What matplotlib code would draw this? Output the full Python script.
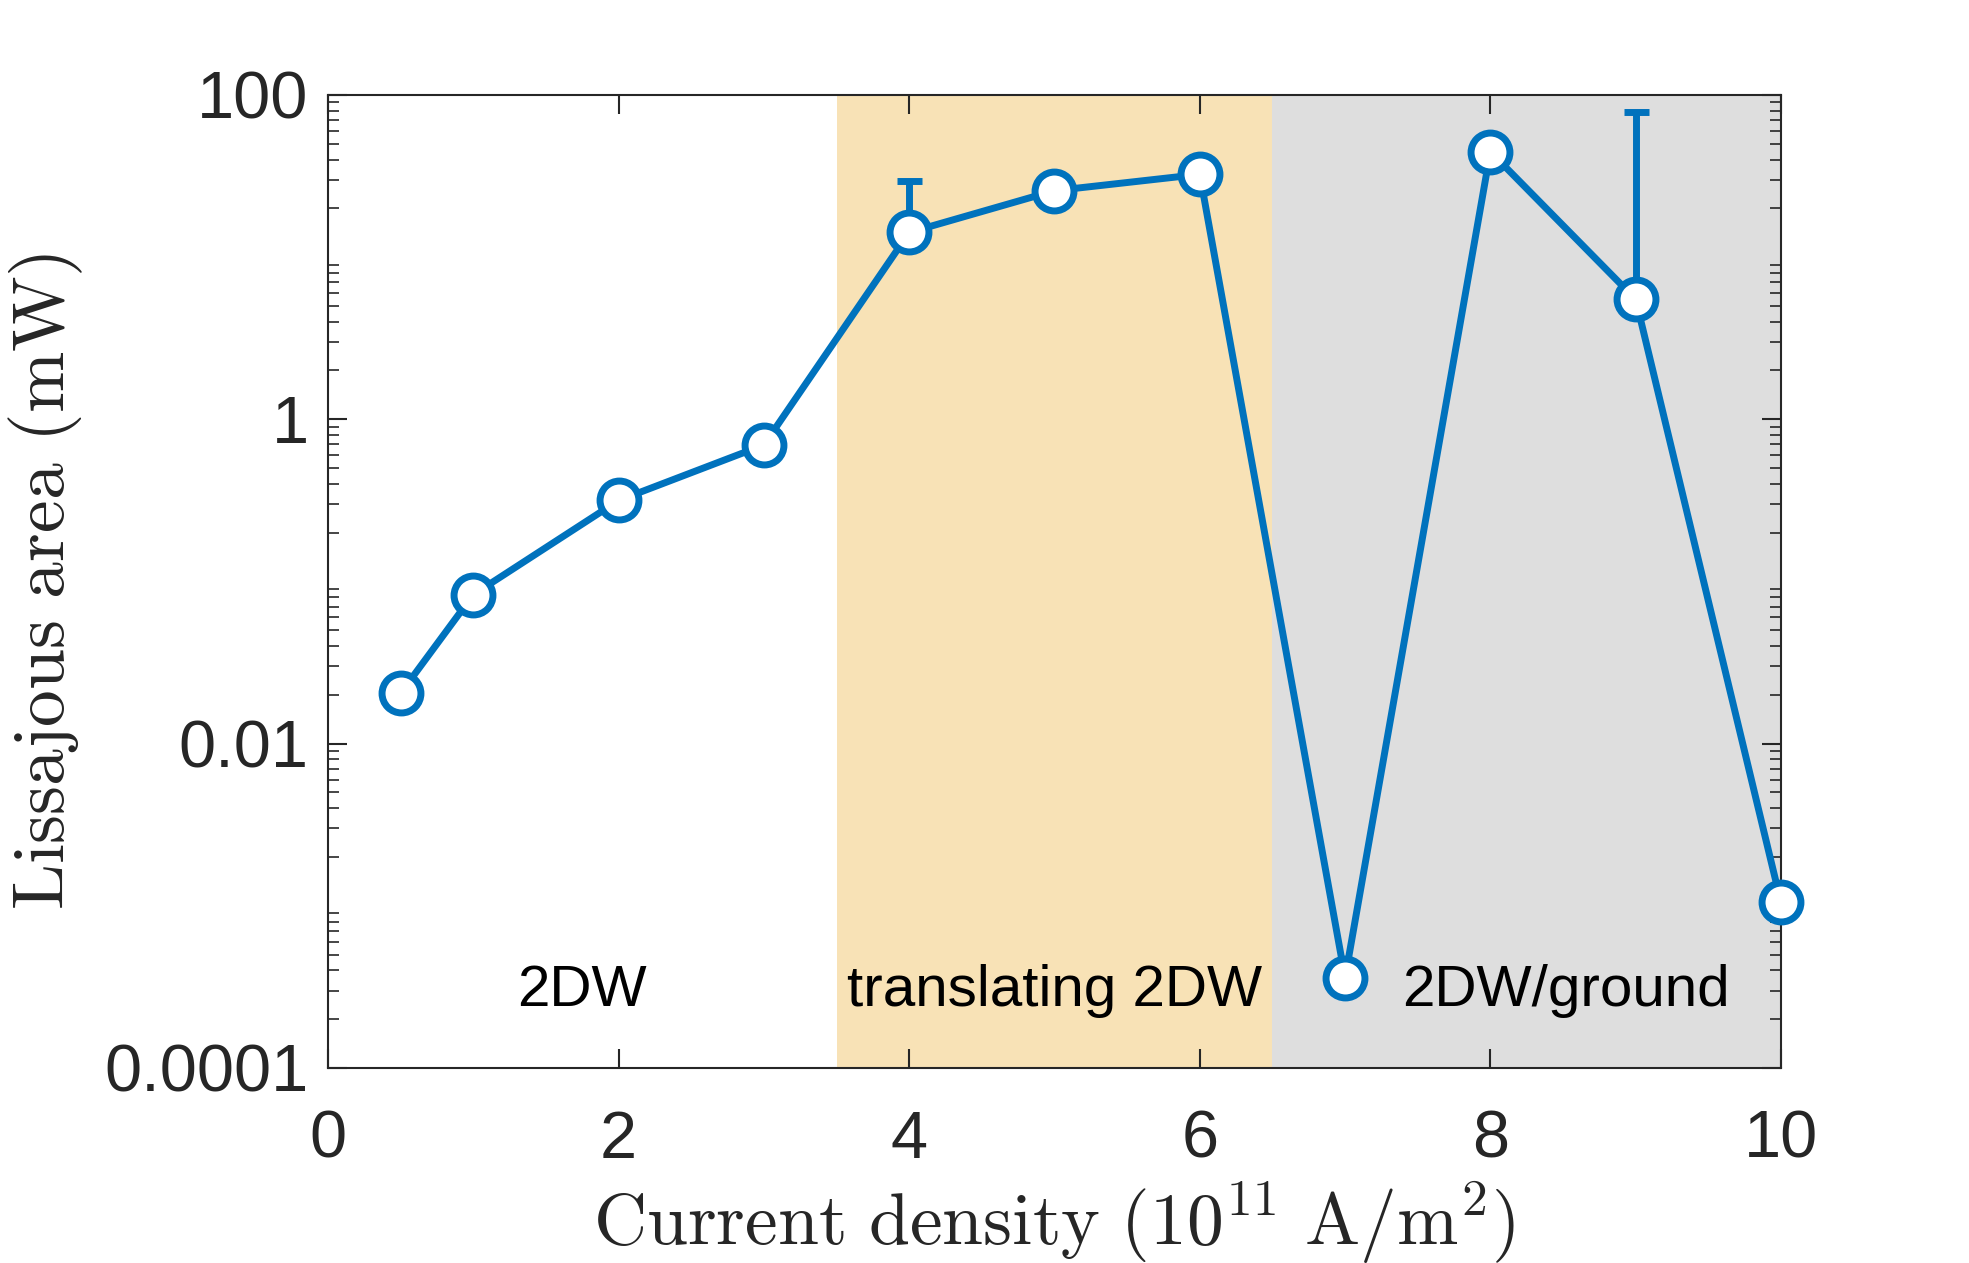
import numpy as np
import matplotlib.pyplot as plt
from matplotlib.ticker import LogLocator, NullFormatter, FixedLocator

plt.rcParams['mathtext.fontset'] = 'cm'

# data
current = [0.5, 1, 2, 3, 4, 5, 6, 7, 8, 9, 10]
area = [0.0205, 0.083, 0.316, 0.695, 14.2, 25.7, 32.4, 3.6e-4, 44.7, 5.5, 1.05e-3]
err_up = [0, 0, 0, 0, 15.4, 0, 0, 0, 0, 73.5, 0]
regions = [(3.5, 6.5, '#F8E2B6'), (6.5, 10, '#DEDEDE')]
region_labels = ['2DW', 'translating 2DW', '2DW/ground']
label_x = [1.75, 5.0, 8.52]
label_y = 3.0e-4

blue = '#0072BD'
fig = plt.figure(figsize=(19.69, 12.63), dpi=100)
ax = fig.add_axes([0.1666, 0.1544, 0.7379, 0.7704])

for x0, x1, c in regions:
    ax.axvspan(x0, x1, color=c, lw=0, zorder=0)

ax.errorbar(current, area, yerr=[np.zeros(len(err_up)), err_up], fmt='none',
            ecolor=blue, elinewidth=5, capsize=9, capthick=5, zorder=2)
ax.plot(current, area, '-o', color=blue, lw=5, ms=28, mew=5,
        mfc='white', mec=blue, zorder=3, clip_on=False)

for t, xx in zip(region_labels, label_x):
    ax.text(xx, label_y, t, ha='center', va='center', fontsize=42,
            family='Liberation Sans', color='black')

ax.set_yscale('log')
ax.set_xlim(0, 10)
ax.set_ylim(1e-4, 100)
ax.set_xticks([0, 2, 4, 6, 8, 10])
ax.yaxis.set_major_locator(FixedLocator([1e-4, 1e-2, 1, 100]))
ax.set_yticklabels(['0.0001', '0.01', '1', '100'])
ax.yaxis.set_minor_locator(LogLocator(base=10, subs=np.arange(2, 10), numticks=20))
ax.yaxis.set_minor_formatter(NullFormatter())

for lab in ax.get_xticklabels() + ax.get_yticklabels():
    lab.set_family('Liberation Sans')
    lab.set_fontsize(48)
    lab.set_color('#262626')

ax.tick_params(which='both', direction='in', top=True, right=True, colors='#262626')
ax.tick_params(which='major', length=14, width=1.5, pad=14)
ax.tick_params(axis='x', which='major', pad=30)
ax.tick_params(which='minor', length=8, width=1.2)
for s in ax.spines.values():
    s.set_color('#262626')
    s.set_linewidth(1.5)

ax.set_xlabel(r'$\mathrm{Current\ density\ (10^{11}\ A/m^2)}$', fontsize=53,
              color='#262626', labelpad=6)
ax.set_ylabel(r'$\mathrm{Lissajous\ area\ (mW)}$', fontsize=53,
              color='#262626', labelpad=14)

fig.savefig('out.png', dpi=100)
